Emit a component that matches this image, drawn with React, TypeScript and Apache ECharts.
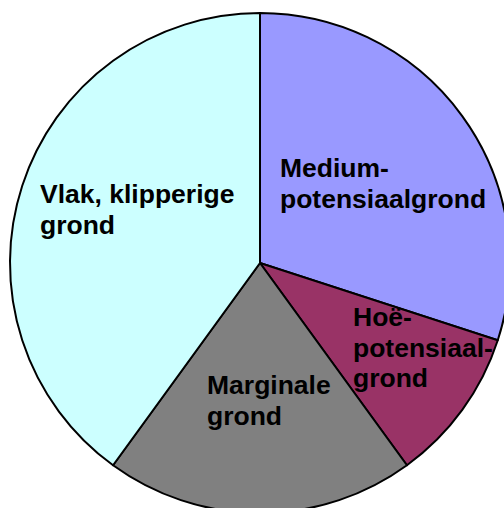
import React, { useEffect, useRef } from "react";
import * as echarts from "echarts";

const categories = [
  "Medium-\npotensiaalgrond",
  "Hoë-\npotensiaal-\ngrond",
  "Marginale\ngrond",
  "Vlak, klipperige\ngrond",
];
const values = [30, 10, 20, 40];
const colors = ["#9999FF", "#993366", "#808080", "#CCFFFF"];
const labelPos: [number, number][] = [
  [280, 153],
  [353, 302],
  [207, 370],
  [40, 179],
];

export default function App() {
  const ref = useRef<HTMLDivElement>(null);
  useEffect(() => {
    if (!ref.current) return;
    const chart = echarts.init(ref.current, null, { renderer: "svg" });
    chart.setOption({
      animation: false,
      backgroundColor: "#ffffff",
      series: [
        {
          type: "pie",
          center: [260, 263],
          radius: 250,
          startAngle: 90,
          clockwise: true,
          silent: true,
          avoidLabelOverlap: false,
          itemStyle: { borderColor: "#000000", borderWidth: 2 },
          label: {
            show: true,
            position: "inside",
            formatter: "{b}",
            color: "#000000",
            fontFamily: "'Liberation Sans', Arial, sans-serif",
            fontWeight: "bold",
            fontSize: 26.5,
            lineHeight: 30.5,
            align: "left",
          },
          labelLine: { show: false },
          labelLayout: (params: any) => {
            const p = labelPos[params.dataIndex];
            return { x: p[0], y: p[1], align: "left", verticalAlign: "top" };
          },
          emphasis: { disabled: true },
          data: categories.map((c, i) => ({
            name: c,
            value: values[i],
            itemStyle: { color: colors[i] },
          })),
        },
      ],
    });
    return () => chart.dispose();
  }, []);
  return (
    <div
      ref={ref}
      style={{ position: "absolute", left: 0, top: 0, width: 504, height: 508 }}
    />
  );
}
